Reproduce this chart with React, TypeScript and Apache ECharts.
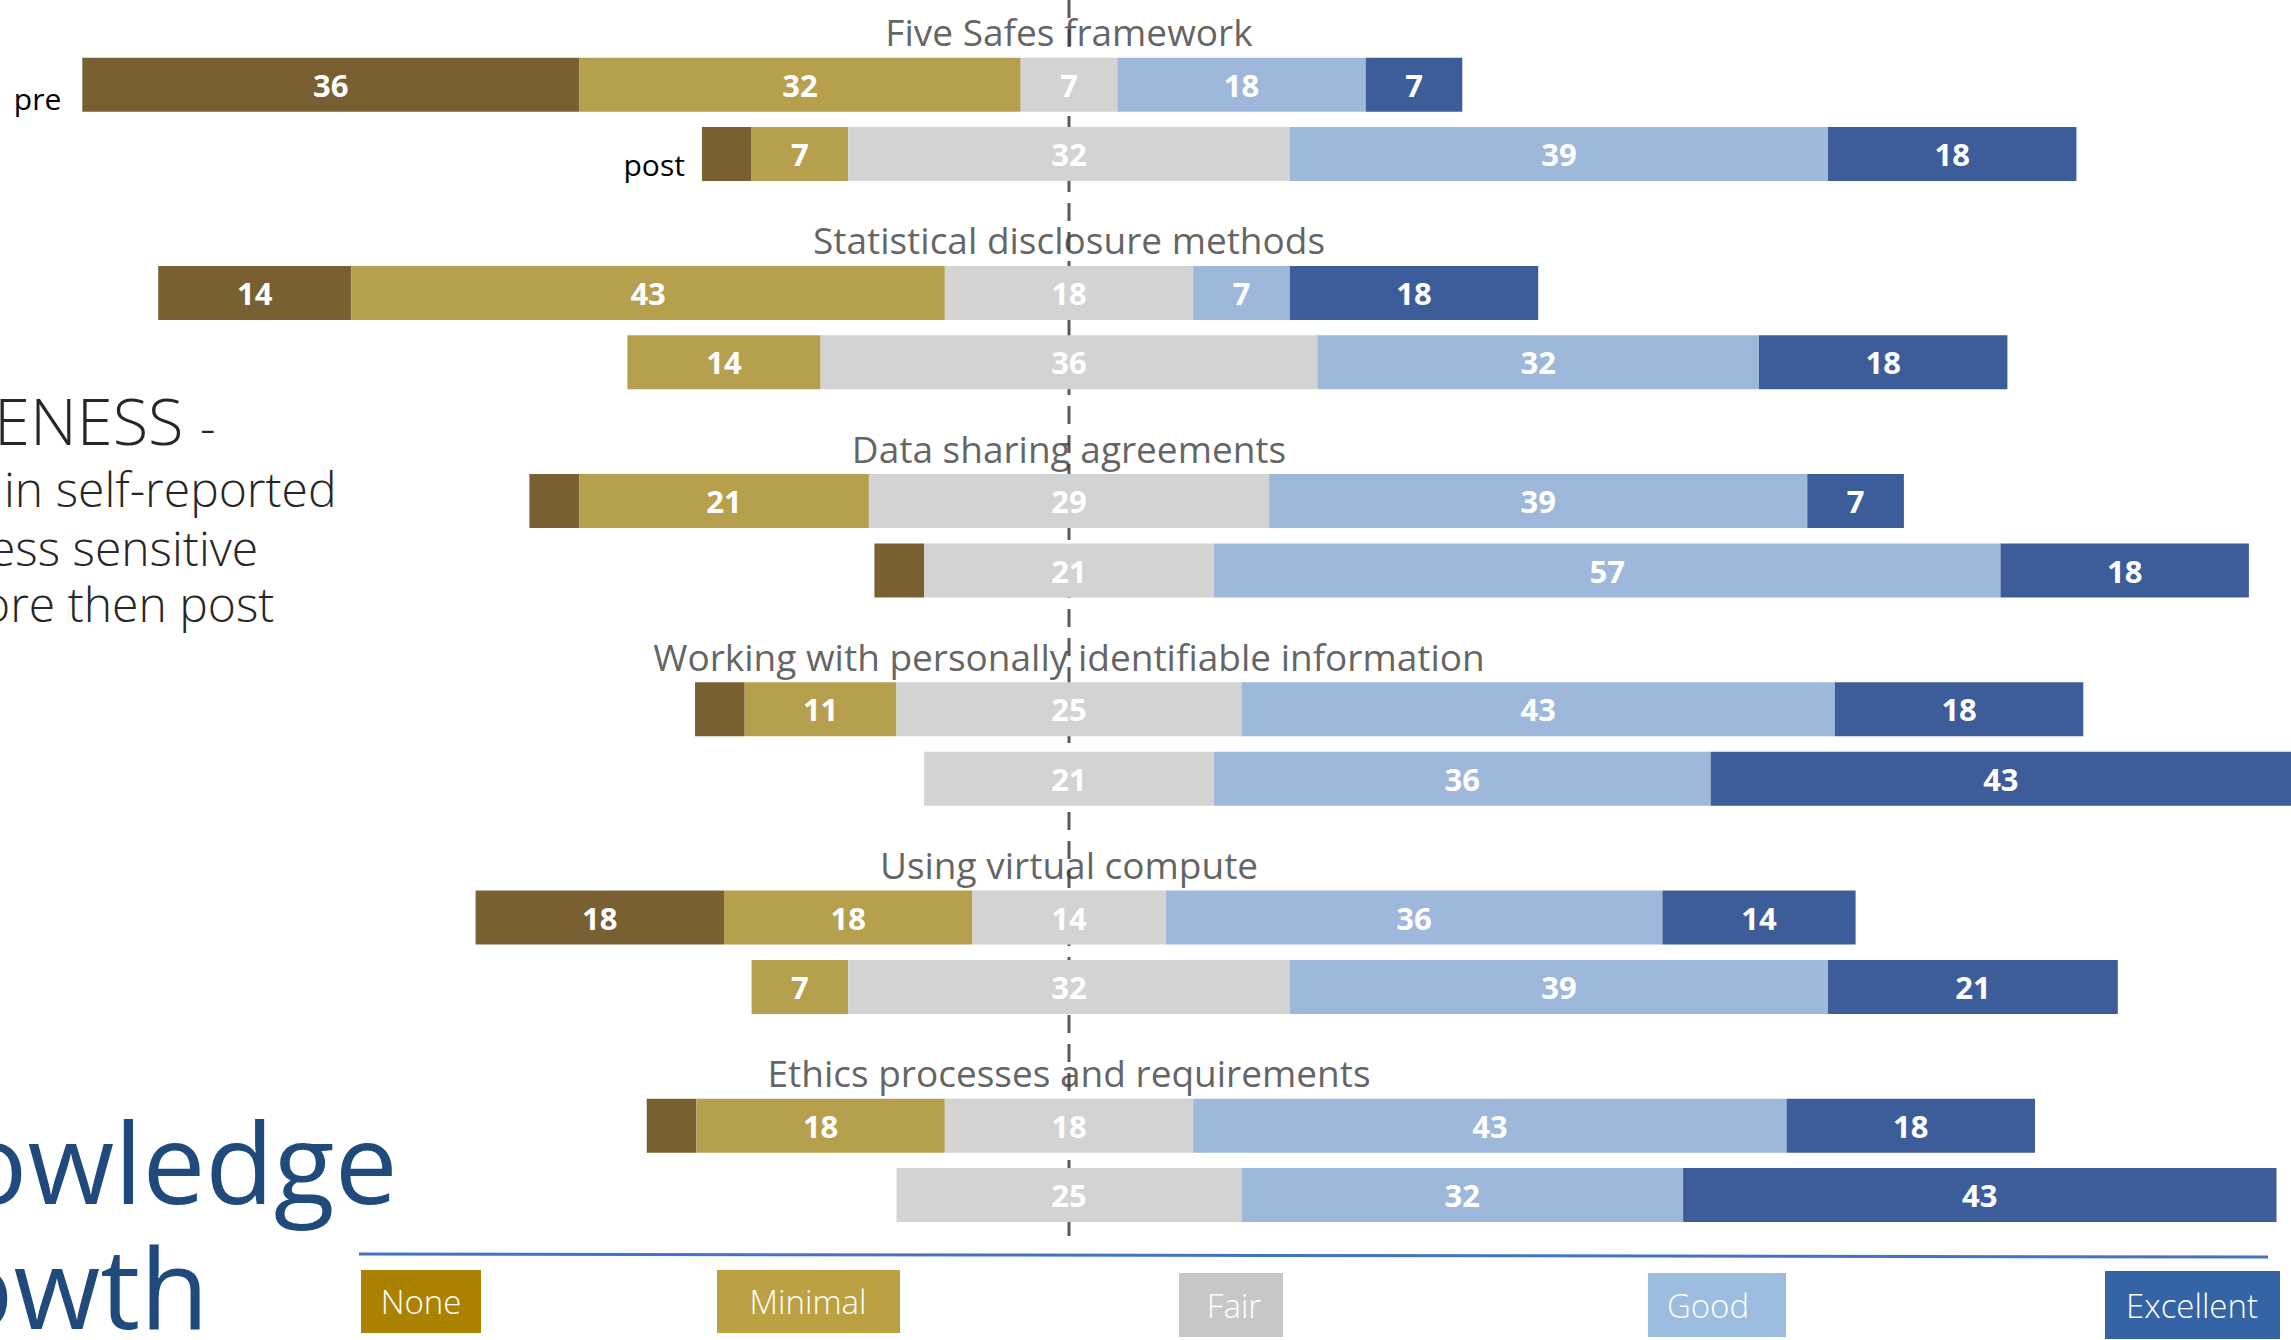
import React, { useEffect, useRef } from "react";
import * as echarts from "echarts";

const topics = [
  "Five Safes framework",
  "Statistical disclosure methods",
  "Data sharing agreements",
  "Working with personally identifiable information",
  "Using virtual compute",
  "Ethics processes and requirements",
];
const levels = ["None", "Minimal", "Fair", "Good", "Excellent"];
const phases = ["pre", "post"];

// percentages (unlabelled slivers ≈ 3.6)
const nonePre = [36, 14, 3.6, 3.6, 18, 3.6];
const minimalPre = [32, 43, 21, 11, 18, 18];
const fairPre = [7, 18, 29, 25, 14, 18];
const goodPre = [18, 7, 39, 43, 36, 43];
const excellentPre = [7, 18, 7, 18, 14, 18];

const nonePost = [3.6, 0, 3.6, 0, 0, 0];
const minimalPost = [7, 14, 0, 0, 7, 0];
const fairPost = [32, 36, 21, 21, 32, 25];
const goodPost = [39, 32, 57, 36, 39, 32];
const excellentPost = [18, 18, 18, 43, 21, 43];

const barColors = ["#786032", "#b6a04e", "#d3d3d3", "#9eb8db", "#3d5d9a"];
const legendColors = ["#ab8200", "#bba142", "#c8c8c8", "#9cbce0", "#3463a6"];

const CENTER = 75; // value at which the middle of "Fair" sits
const GRID_LEFT = 34;
const GRID_WIDTH = 2257;
const AXIS_MAX = GRID_WIDTH / 13.8;

export default function App() {
  const ref = useRef<HTMLDivElement>(null);

  useEffect(() => {
    if (!ref.current) return;
    const chart = echarts.init(ref.current, null, { renderer: "svg" });

    const categories: string[] = [];
    const slotKind: { t: number; p: number }[] = [];
    topics.forEach((t, i) => {
      categories.push(t + " | pre");
      slotKind.push({ t: i, p: 0 });
      categories.push(t + " | post");
      slotKind.push({ t: i, p: 1 });
      if (i < topics.length - 1) {
        categories.push(t + " | gap");
        slotKind.push({ t: i, p: -1 });
      }
    });

    const pre = [nonePre, minimalPre, fairPre, goodPre, excellentPre];
    const post = [nonePost, minimalPost, fairPost, goodPost, excellentPost];
    const val = (lvl: number, s: { t: number; p: number }) =>
      s.p === 0 ? pre[lvl][s.t] : post[lvl][s.t];

    const offsetData = slotKind.map((s) => {
      if (s.p < 0) return "-";
      const v = CENTER - (val(0, s) + val(1, s) + val(2, s) / 2);
      if (s.t === 0) {
        return {
          value: v,
          label: {
            show: true,
            position: "insideRight",
            distance: s.p === 0 ? 21 : 17,
            offset: [0, s.p === 0 ? 14 : 10],
            formatter: phases[s.p],
            color: "#000",
            fontFamily: "Open Sans",
            fontSize: 30,
          },
        };
      }
      return v;
    });

    const levelSeries = levels.map((name, lvl) => ({
      name,
      type: "bar",
      stack: "total",
      barWidth: 54,
      z: 5,
      itemStyle: { color: barColors[lvl] },
      label: {
        show: true,
        position: "inside",
        color: "#ffffff",
        fontFamily: "Open Sans",
        fontWeight: "bold",
        fontSize: 31,
        formatter: (p: any) => (p.value >= 5 ? String(Math.round(p.value)) : ""),
      },
      data: slotKind.map((s) => (s.p < 0 ? "-" : val(lvl, s))),
    }));

    chart.setOption({
      animation: false,
      backgroundColor: "#ffffff",
      grid: { left: GRID_LEFT, top: 50, width: GRID_WIDTH, height: 17 * 69.4 },
      xAxis: { type: "value", min: 0, max: AXIS_MAX, show: false },
      yAxis: {
        type: "category",
        inverse: true,
        data: categories,
        show: false,
      },
      series: [
        {
          name: "offset",
          type: "bar",
          stack: "total",
          barWidth: 54,
          silent: true,
          z: 5,
          itemStyle: { color: "transparent" },
          data: offsetData,
        },
        ...levelSeries,
        {
          name: "topics",
          type: "scatter",
          symbolSize: 0,
          z: 6,
          silent: true,
          label: {
            show: true,
            position: "inside",
            offset: [0, -53],
            color: "#3a3a3a",
            fontFamily: "Open Sans",
            fontSize: 37,
            formatter: (p: any) => topics[p.dataIndex],
          },
          data: topics.map((t) => [CENTER, t + " | pre"]),
        },
      ],
    });

    const cx = chart.convertToPixel({ xAxisIndex: 0 }, CENTER) as number;

    const legendBoxes = [
      { x: 361, y: 1270, w: 120, h: 63, tx: 421 },
      { x: 717, y: 1270, w: 183, h: 63, tx: 808 },
      { x: 1179, y: 1273, w: 104, h: 64, tx: 1234 },
      { x: 1648, y: 1273, w: 138, h: 64, tx: 1708 },
      { x: 2105, y: 1271, w: 175, h: 68, tx: 2192 },
    ];

    const graphics: any[] = [
      {
        type: "line",
        z: 0,
        shape: { x1: cx, y1: 0, x2: cx, y2: 1242 },
        style: { stroke: "#5a5a5a", lineWidth: 3, lineDash: [18, 11] },
      },
      {
        type: "line",
        shape: { x1: 359, y1: 1254, x2: 2268, y2: 1257 },
        style: { stroke: "#4472c4", lineWidth: 3 },
      },
      // cropped slide text on the left
      {
        type: "text",
        x: -6,
        y: 420,
        style: { text: "ENESS", font: "300 65px 'Open Sans'", fill: "#262626", textVerticalAlign: "middle" },
      },
      {
        type: "text",
        x: 200,
        y: 426,
        style: { text: "-", font: "300 48px 'Open Sans'", fill: "#262626", textVerticalAlign: "middle" },
      },
      {
        type: "text",
        x: 4,
        y: 488,
        style: { text: "in self-reported", font: "300 48px 'Open Sans'", fill: "#262626", textVerticalAlign: "middle" },
      },
      {
        type: "text",
        x: -11,
        y: 547,
        style: { text: "ess sensitive", font: "300 48px 'Open Sans'", fill: "#262626", textVerticalAlign: "middle" },
      },
      {
        type: "text",
        x: -18,
        y: 603,
        style: { text: "ore then post", font: "300 48px 'Open Sans'", fill: "#262626", textVerticalAlign: "middle" },
      },
      {
        type: "text",
        x: -40,
        y: 1160,
        style: { text: "owledge", font: "400 112px 'Open Sans'", fill: "#204a7c", textVerticalAlign: "middle" },
      },
      {
        type: "text",
        x: -54,
        y: 1285,
        style: { text: "owth", font: "400 112px 'Open Sans'", fill: "#204a7c", textVerticalAlign: "middle" },
      },
    ];

    legendBoxes.forEach((b, i) => {
      graphics.push({
        type: "rect",
        shape: { x: b.x, y: b.y, width: b.w, height: b.h },
        style: { fill: legendColors[i] },
      });
      graphics.push({
        type: "text",
        x: b.tx,
        y: b.y + b.h / 2,
        z: 10,
        style: {
          text: levels[i],
          font: "300 33px 'Open Sans'",
          fill: "#ffffff",
          textAlign: "center",
          textVerticalAlign: "middle",
        },
      });
    });

    chart.setOption({ graphic: graphics });

    return () => chart.dispose();
  }, []);

  return (
    <div
      ref={ref}
      style={{ position: "absolute", left: 0, top: 0, width: 2291, height: 1340 }}
    />
  );
}
